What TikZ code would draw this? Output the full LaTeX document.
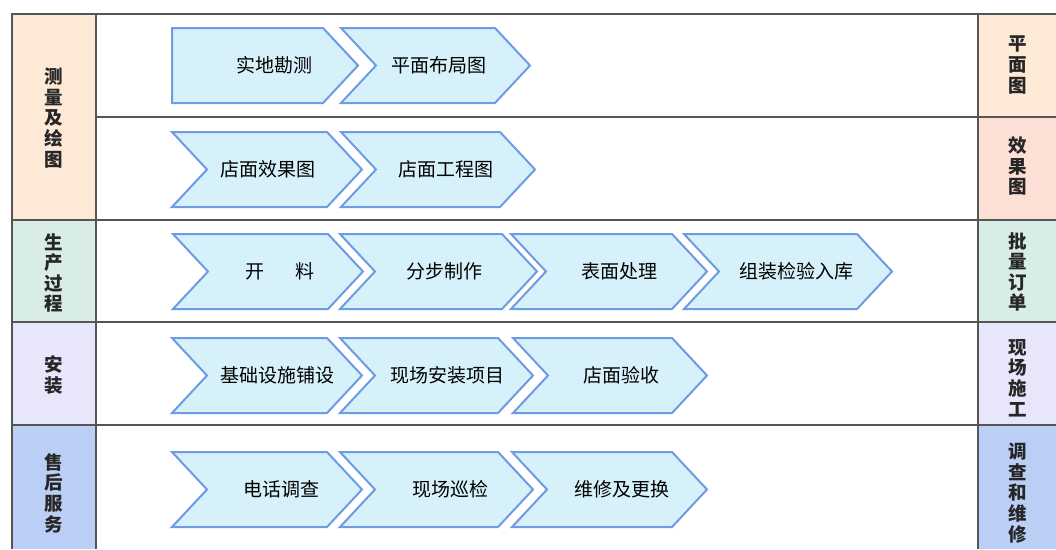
\documentclass[tikz,border=0pt]{standalone}
\usepackage{fontspec}
\newfontfamily\cjk{Noto Sans CJK SC}
\definecolor{peach}{HTML}{FDE9D5}
\definecolor{pinkc}{HTML}{FCE0D6}
\definecolor{tealc}{HTML}{D8EDE8}
\definecolor{lavc}{HTML}{E8E6FA}
\definecolor{bluec}{HTML}{BBCFF6}
\definecolor{chevfill}{HTML}{D7F1FA}
\definecolor{chevline}{HTML}{6E9BE3}
\definecolor{gridc}{HTML}{555555}
\tikzset{
  chevshape/.style={fill=chevfill, draw=chevline, line width=2pt, line join=miter},
  chevtext/.style={font=\cjk\fontsize{19}{21}\selectfont, text=black, inner sep=0pt},
  sidetext/.style={font=\cjk\bfseries\fontsize{18.5}{20.6}\selectfont, align=center, text=black!85, inner sep=0pt},
  gridline/.style={draw=gridc, line width=1.5pt}
}
% #1 name, #2 left x, #3 top y, #4 width, #5 notch depth, #6 text centre x, #7 text
\newcommand\chev[7]{%
  \draw[chevshape] (#2,#3) -- (#2+#4-35,#3) -- (#2+#4,#3+37.5) -- (#2+#4-35,#3+75) -- (#2,#3+75) -- (#2+#5,#3+37.5) -- cycle;
  \node[chevtext] (#1) at (#6,#3+37.5) {#7};}
\begin{document}
\begin{tikzpicture}[x=1pt,y=-1pt]
\useasboundingbox (0,0) rectangle (1056,549);
\fill[white] (0,0) rectangle (1056,549);
% cell fills
\fill[peach] (12,14) rectangle (96,220);
\fill[tealc] (12,220) rectangle (96,322);
\fill[lavc] (12,322) rectangle (96,425);
\fill[bluec] (12,425) rectangle (96,549);
\fill[peach] (978,14) rectangle (1056,117);
\fill[pinkc] (978,117) rectangle (1056,220);
\fill[tealc] (978,220) rectangle (1056,322);
\fill[lavc] (978,322) rectangle (1056,425);
\fill[bluec] (978,425) rectangle (1056,549);
% grid
\draw[gridline] (12,549) -- (12,14) -- (1056,14);
\draw[gridline] (96,14) -- (96,549);
\draw[gridline] (978,14) -- (978,549);
\draw[gridline] (96,117) -- (1056,117);
\draw[gridline] (12,220) -- (1056,220);
\draw[gridline] (12,322) -- (1056,322);
\draw[gridline] (12,425) -- (1056,425);
% side labels
\node[sidetext] (l1) at (54,118) {测\\量\\及\\绘\\图};
\node[sidetext] (l2) at (54,273) {生\\产\\过\\程};
\node[sidetext] (l3) at (54,375) {安\\装};
\node[sidetext] (l4) at (54,493) {售\\后\\服\\务};
\node[sidetext] (r1) at (1018,65) {平\\面\\图};
\node[sidetext] (r2) at (1018,166) {效\\果\\图};
\node[sidetext] (r3) at (1018,272) {批\\量\\订\\单};
\node[sidetext] (r4) at (1018,378) {现\\场\\施\\工};
\node[sidetext] (r5) at (1018,493) {调\\查\\和\\维\\修};
% row 1
\chev{a1}{172}{28}{186}{0}{274}{实地勘测}
\chev{a2}{341}{28}{189}{35}{439}{平面布局图}
% row 2
\chev{b1}{172}{132}{190}{35}{268}{店面效果图}
\chev{b2}{341}{132}{194}{35}{446}{店面工程图}
% row 3
\chev{c1}{173}{234}{190}{35}{280}{开\hspace{1.6em}料}
\chev{c2}{340}{234}{197}{35}{444}{分步制作}
\chev{c3}{511}{234}{196}{35}{619}{表面处理}
\chev{c4}{684}{234}{208}{35}{796}{组装检验入库}
% row 4
\chev{d1}{172}{338}{190}{35}{277}{基础设施铺设}
\chev{d2}{340}{338}{193}{35}{447}{现场安装项目}
\chev{d3}{513}{338}{194}{35}{621}{店面验收}
% row 5
\chev{e1}{172}{452}{190}{35}{281}{电话调查}
\chev{e2}{340}{452}{193}{35}{450}{现场巡检}
\chev{e3}{512}{452}{195}{35}{622}{维修及更换}
\end{tikzpicture}
\end{document}
